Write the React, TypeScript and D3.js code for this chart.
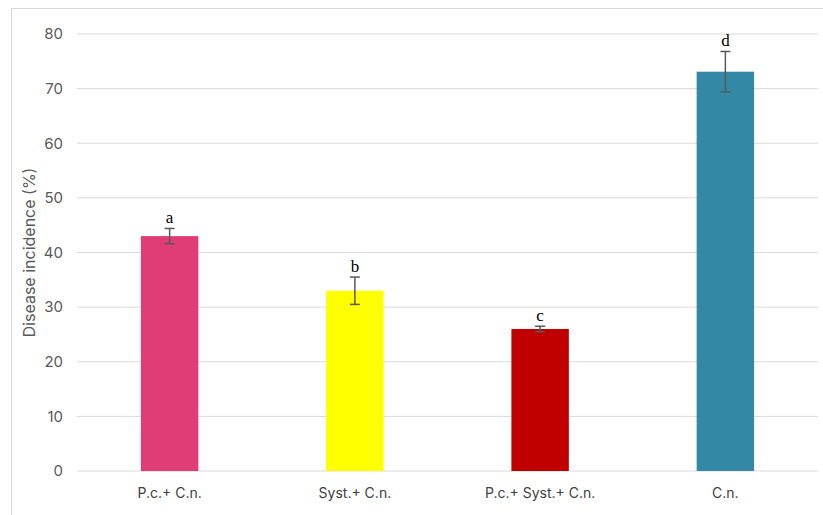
import React from "react";
import * as d3 from "d3";

const categories = ["P.c.+ C.n.", "Syst.+ C.n.", "P.c.+ Syst.+ C.n.", "C.n."];
const values = [43, 33, 26, 73.1];
const errors = [1.4, 2.5, 0.5, 3.7];
const letters = ["a", "b", "c", "d"];
const colors = ["#E03C78", "#FFFF00", "#C00000", "#3288A5"];
const yTicks = [0, 10, 20, 30, 40, 50, 60, 70, 80];

const W = 823;
const H = 515;
const left = 77;
const right = 818;
const top = 34;
const bottom = 471;

export default function App() {
  const x = d3.scaleBand<string>().domain(categories).range([left, right]).paddingInner(0.69).paddingOuter(0.345);
  const y = d3.scaleLinear().domain([0, 80]).range([bottom, top]);
  const sans = "Inter, 'Open Sans', sans-serif";
  const cap = 5;

  return (
    <svg width={W} height={H} style={{ position: "absolute", left: 0, top: 0, background: "#fff" }}>
      <rect x={11.5} y={8.5} width={900} height={600} fill="#fff" stroke="#d9d9d9" strokeWidth={1} />
      {yTicks.map((t) => (
        <g key={t}>
          <line x1={left} x2={right} y1={y(t)} y2={y(t)} stroke="#d9d9d9" strokeWidth={1} />
          <text x={63} y={y(t)} dy="0.35em" textAnchor="end" fontSize={15} fill="#595959" fontFamily={sans}>
            {t}
          </text>
        </g>
      ))}
      <text
        transform={`translate(35,${(top + bottom) / 2}) rotate(-90)`}
        textAnchor="middle"
        fontSize={16}
        fill="#595959"
        fontFamily={sans}
      >
        Disease incidence (%)
      </text>
      {categories.map((c, i) => {
        const bx = x(c)!;
        const cx = bx + x.bandwidth() / 2;
        const hi = y(values[i] + errors[i]);
        const lo = y(values[i] - errors[i]);
        return (
          <g key={c}>
            <rect x={bx} y={y(values[i])} width={x.bandwidth()} height={bottom - y(values[i])} fill={colors[i]} />
            <line x1={cx} x2={cx} y1={hi} y2={lo} stroke="#595959" strokeWidth={1.5} />
            <line x1={cx - cap} x2={cx + cap} y1={hi} y2={hi} stroke="#595959" strokeWidth={1.5} />
            <line x1={cx - cap} x2={cx + cap} y1={lo} y2={lo} stroke="#595959" strokeWidth={1.5} />
            <text x={cx} y={hi - 5} textAnchor="middle" fontSize={17} fill="#000" fontFamily="'Liberation Serif', serif">
              {letters[i]}
            </text>
            <text x={cx} y={bottom + 22} dy="0.35em" textAnchor="middle" fontSize={14} fill="#404040" fontFamily={sans}>
              {c}
            </text>
          </g>
        );
      })}
    </svg>
  );
}
